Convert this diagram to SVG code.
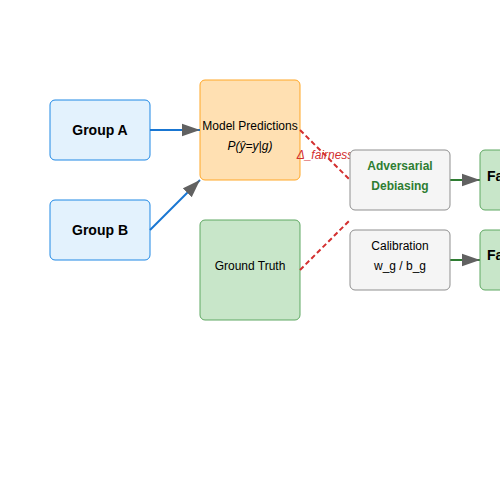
<svg xmlns="http://www.w3.org/2000/svg" width="500" height="500" viewBox="0 0 500 500">
<defs>
<style>
text{font-family:"Liberation Sans",Arial,sans-serif;text-anchor:middle;dominant-baseline:central;}
.blue{fill:#e3f2fd;stroke:#1e88e5;stroke-width:1;}
.orange{fill:#ffe0b2;stroke:#ffa726;stroke-width:1;}
.green{fill:#c8e6c9;stroke:#5fa862;stroke-width:1;}
.gray{fill:#f5f5f5;stroke:#8f8f8f;stroke-width:1;}
.big{font-size:14px;font-weight:bold;fill:#000;}
.sm{font-size:12px;fill:#000;}
.ad{font-size:12px;font-weight:bold;fill:#2e7d32;}
.bl{stroke:#1976d2;stroke-width:2;fill:none;}
.gl{stroke:#2e7d32;stroke-width:2;fill:none;}
.rd{stroke:#d32f2f;stroke-width:2;fill:none;stroke-dasharray:5,3;}
</style>
<marker id="ah" viewBox="0 0 10 7" refX="10" refY="3.5" markerWidth="9" markerHeight="7" orient="auto" markerUnits="strokeWidth">
<path d="M0,0 L10,3.5 L0,7 Z" fill="#616161"/>
</marker>
</defs>
<rect width="500" height="500" fill="#fff"/>
<g id="groupA"><rect class="blue" x="50" y="100" width="100" height="60" rx="5"/><text class="big" x="100" y="130">Group A</text></g>
<g id="groupB"><rect class="blue" x="50" y="200" width="100" height="60" rx="5"/><text class="big" x="100" y="230">Group B</text></g>
<g id="model"><rect class="orange" x="200" y="80" width="100" height="100" rx="5"/><text class="sm" x="250" y="126">Model Predictions</text><text class="sm" x="250" y="146" style="font-style:italic">P(ŷ=y|g)</text></g>
<g id="truth"><rect class="green" x="200" y="220" width="100" height="100" rx="5"/><text class="sm" x="250" y="266">Ground Truth</text></g>
<g id="connectors">
<line class="bl" x1="150" y1="130" x2="200" y2="130" marker-end="url(#ah)"/>
<line class="bl" x1="150" y1="230" x2="200" y2="180" marker-end="url(#ah)"/>
<line class="rd" x1="300" y1="130" x2="350" y2="180"/>
<line class="rd" x1="300" y1="270" x2="350" y2="220"/>
<text x="325" y="155" style="font-size:12px;font-style:italic;fill:#d32f2f;">Δ_fairness</text>
<line class="gl" x1="450" y1="180" x2="480" y2="180" marker-end="url(#ah)"/>
<line class="gl" x1="450" y1="260" x2="480" y2="260" marker-end="url(#ah)"/>
</g>
<g id="adversarial"><rect class="gray" x="350" y="150" width="100" height="60" rx="5"/><text class="ad" x="400" y="166">Adversarial</text><text class="ad" x="400" y="186">Debiasing</text></g>
<g id="calibration"><rect class="gray" x="350" y="230" width="100" height="60" rx="5"/><text class="sm" x="400" y="246">Calibration</text><text class="sm" x="400" y="266">w_g / b_g</text></g>
<g id="fair1"><rect class="green" x="480" y="150" width="100" height="60" rx="5"/><text class="big" x="487" y="176" style="text-anchor:start">Fair</text></g>
<g id="fair2"><rect class="green" x="480" y="230" width="100" height="60" rx="5"/><text class="big" x="487" y="255" style="text-anchor:start">Fair</text></g>
</svg>
